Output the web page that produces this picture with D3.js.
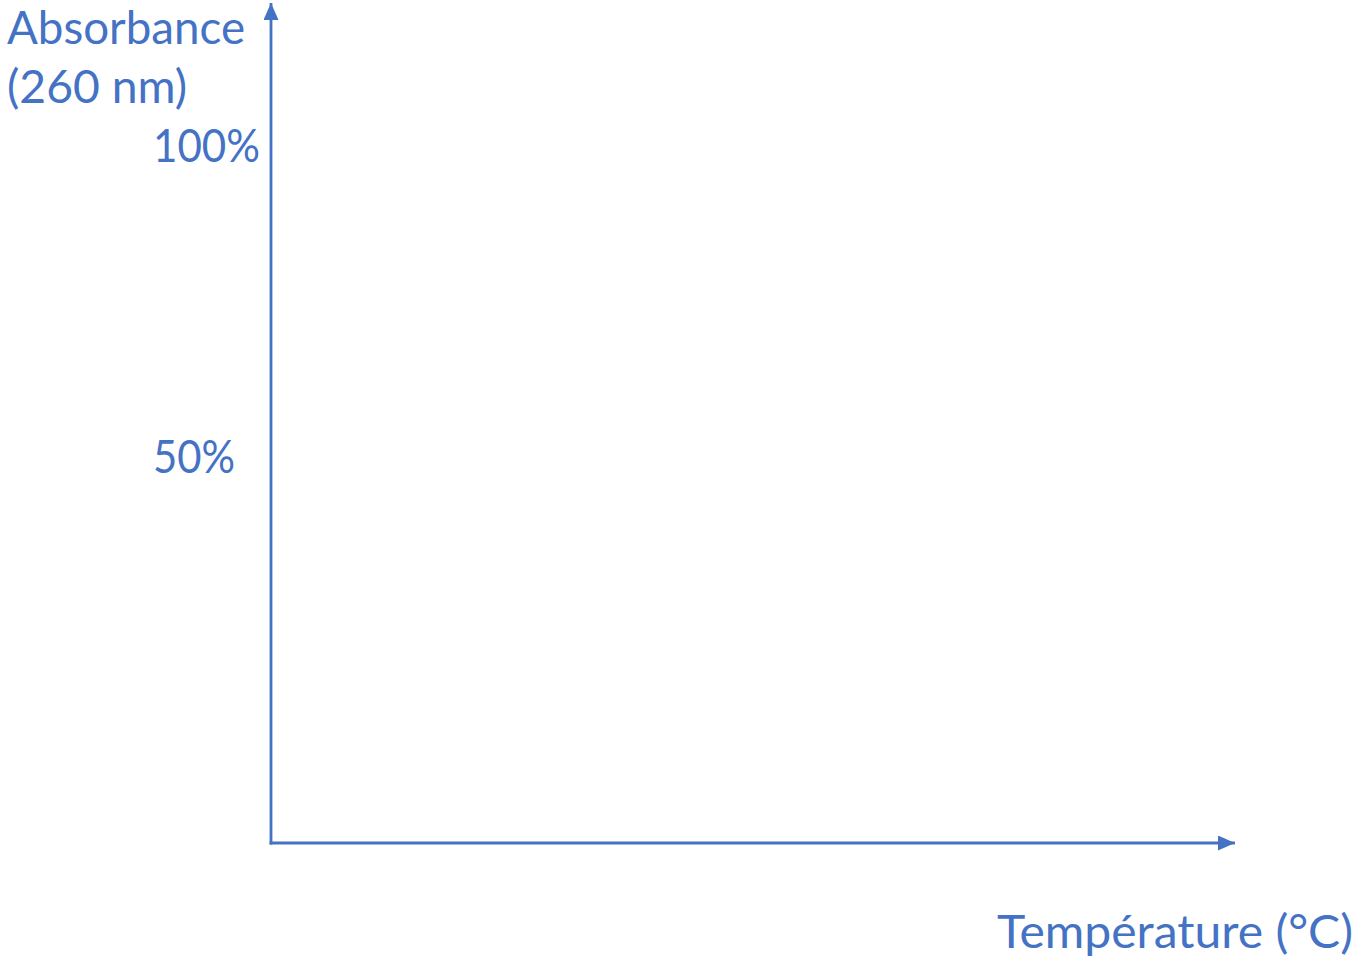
<!DOCTYPE html>
<html>
<head>
<meta charset="utf-8">
<script src="https://cdn.jsdelivr.net/npm/d3@7"></script>
<style>
html,body{margin:0;padding:0;background:#fff;}
svg{display:block;}
text{font-family:Lato, "Open Sans", sans-serif;fill:#4472C4;}
</style>
</head>
<body>
<svg id="chart" width="1358" height="960"></svg>
<script>
// Data
const tickValues = [100, 50];
const tickLabels = ["100%", "50%"];
const yAxisTitle = ["Absorbance", "(260 nm)"];
const xAxisTitle = ["Température (°C)"];

const svg = d3.select("#chart");
const color = "#4472C4";

// Scales (axis extends beyond the labelled range)
const y = d3.scaleLinear().domain([0, 100]).range([784, 162]);
const x = d3.scaleLinear().domain([0, 1]).range([271, 1235]);

const originY = 843;

// Arrow marker
const defs = svg.append("defs");
defs.append("marker")
  .attr("id", "arrow")
  .attr("viewBox", "0 0 10 10")
  .attr("preserveAspectRatio", "none")
  .attr("refX", 10).attr("refY", 5)
  .attr("markerUnits", "userSpaceOnUse")
  .attr("markerWidth", 17).attr("markerHeight", 15)
  .attr("orient", "auto")
  .append("path")
  .attr("d", "M0,0 L10,5 L0,10 Z")
  .attr("fill", color);

// Y axis line
svg.append("line")
  .attr("x1", x(0)).attr("y1", originY + 1.4)
  .attr("x2", x(0)).attr("y2", 3)
  .attr("stroke", color).attr("stroke-width", 2.8)
  .attr("marker-end", "url(#arrow)");

// X axis line
svg.append("line")
  .attr("x1", x(0) - 1.4).attr("y1", originY)
  .attr("x2", x(1)).attr("y2", originY)
  .attr("stroke", color).attr("stroke-width", 2.8)
  .attr("marker-end", "url(#arrow)");

// Tick labels
const tickWidths = {"100%": 107, "50%": 82};
svg.selectAll("text.tick")
  .data(tickValues)
  .join("text")
  .attr("class", "tick")
  .attr("x", 153)
  .attr("y", d => y(d))
  .attr("font-size", 46)
  .attr("textLength", (d, i) => tickWidths[tickLabels[i]])
  .attr("lengthAdjust", "spacingAndGlyphs")
  .text((d, i) => tickLabels[i]);

// Y axis title
const yTitleWidths = [238, 180];
const yTitleBase = [44, 103];
svg.selectAll("text.ytitle")
  .data(yAxisTitle)
  .join("text")
  .attr("class", "ytitle")
  .attr("x", 7)
  .attr("y", (d, i) => yTitleBase[i])
  .attr("font-size", 46)
  .attr("textLength", (d, i) => yTitleWidths[i])
  .attr("lengthAdjust", "spacingAndGlyphs")
  .text(d => d);

// X axis title
svg.append("text")
  .attr("x", 997)
  .attr("y", 948)
  .attr("font-size", 46)
  .attr("textLength", 356)
  .attr("lengthAdjust", "spacingAndGlyphs")
  .text(xAxisTitle[0]);
</script>
</body>
</html>
